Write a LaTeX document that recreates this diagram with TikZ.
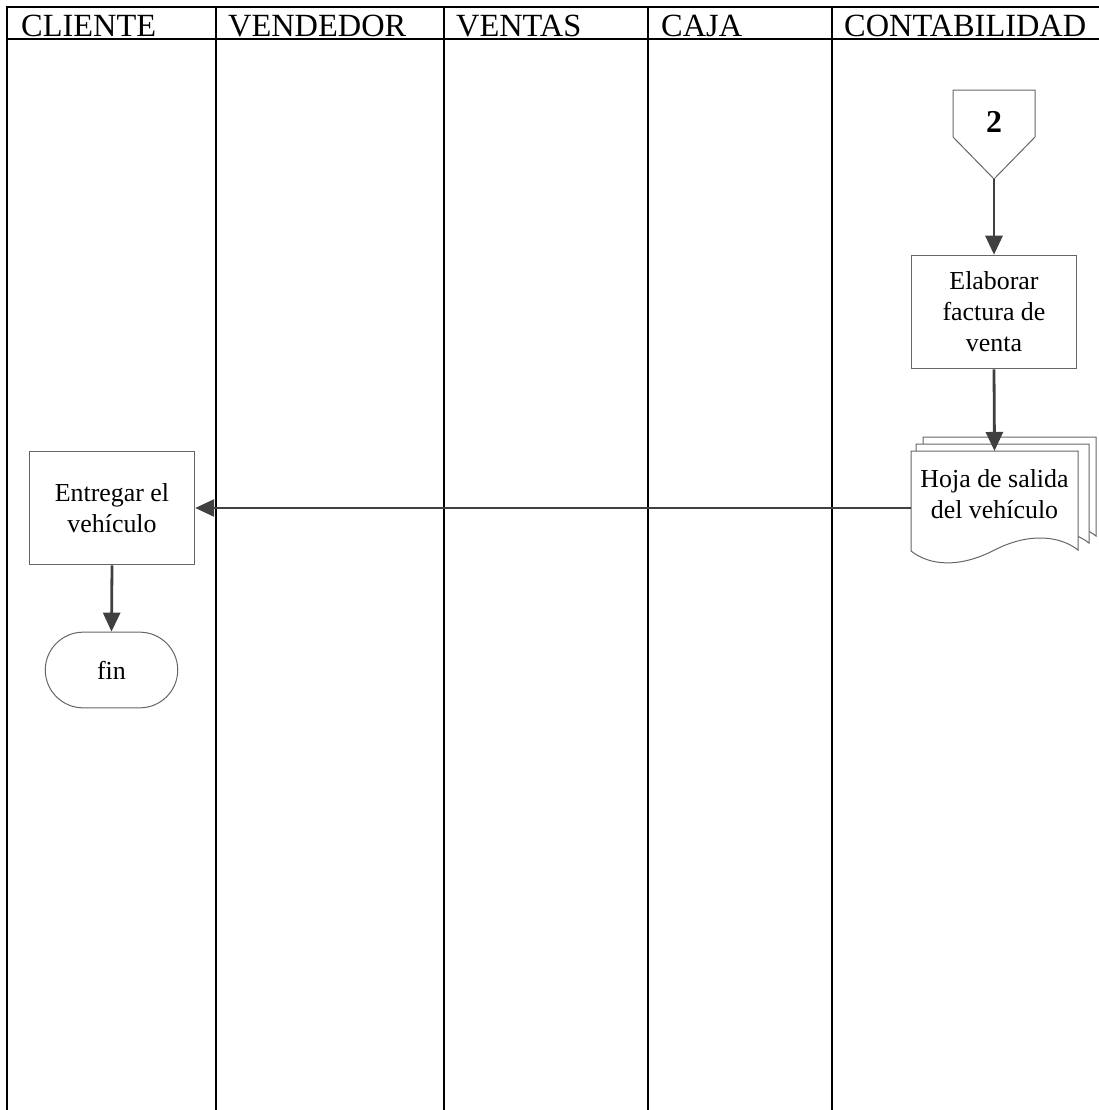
\documentclass[tikz,border=0pt]{standalone}
\usepackage{fontspec}
\setmainfont{Liberation Serif}
\usetikzlibrary{arrows.meta}
\definecolor{flowline}{HTML}{404040}
\definecolor{boxline}{HTML}{666666}
\tikzset{
  lane/.style={line width=1.5bp, black},
  headrule/.style={line width=2.2bp, black},
  headtext/.style={anchor=base west, inner sep=0pt, font=\fontsize{32.5}{34}\selectfont},
  procbox/.style={draw=boxline, line width=1bp, fill=white, align=center, inner sep=2pt,
                  font=\fontsize{26}{31}\selectfont},
  termbox/.style={procbox, rounded corners=38bp},
  shapeline/.style={draw=boxline, line width=1bp, fill=white},
  arr/.style={draw=flowline, line width=2.8bp, -{Triangle[length=19bp, width=17bp]}},
}
\begin{document}
\begin{tikzpicture}[x=1bp, y=-1bp]
\useasboundingbox (0,0) rectangle (1099,1110);

% swimlane frame
\draw[headrule] (7,7) -- (1099,7);
\draw[headrule] (7,39) -- (1099,39);
\foreach \xx in {7,216,444,648,832}
  \draw[lane] (\xx,6) -- (\xx,1110);

% lane titles
\node[headtext] (hCliente)  at (21,36.5)  {CLIENTE};
\node[headtext] (hVendedor) at (228,36.5) {VENDEDOR};
\node[headtext] (hVentas)   at (456,36.5) {VENTAS};
\node[headtext] (hCaja)     at (661,36.5) {CAJA};
\node[headtext] (hConta)    at (844,36.5) {CONTABILIDAD};

% off-page connector 2
\draw[shapeline] (953,90) -- (1035,90) -- (1035,137) -- (994,179) coordinate (c2tip) -- (953,137) -- cycle;
\node[font=\bfseries\fontsize{32}{34}\selectfont] (c2) at (994,122) {2};

% process: invoice
\node[procbox, minimum width=166, minimum height=114] (elab) at (994,312)
  {Elaborar\\factura de\\venta};

% multi-document: exit sheet
\draw[shapeline] (923,437) -- (1096,437) -- (1096,536)
  .. controls (1078,522) and (1048,518) .. (1010,536) -- (923,536) -- cycle;
\draw[shapeline] (916,444) -- (1089,444) -- (1089,543)
  .. controls (1071,529) and (1041,525) .. (1003,543) -- (916,543) -- cycle;
\draw[shapeline] (911,451) -- (1078,451) -- (1078,550)
  .. controls (1060,536) and (1030,532) .. (994.5,550)
  .. controls (960,568) and (930,566) .. (911,551) -- cycle;
\node[align=center, inner sep=0pt, font=\fontsize{26}{31}\selectfont,
      minimum width=167, minimum height=86] (doc) at (994.5,494)
  {Hoja de salida\\del vehículo};

% client lane
\node[procbox, minimum width=166, minimum height=114] (entrega) at (112,508)
  {Entregar el\\vehículo};
\node[termbox, minimum width=133, minimum height=76] (fin) at (111.5,670) {fin};

% flow
\draw[arr] (c2tip) -- (elab.north);
\draw[arr] (elab.south) -- (doc.north);
\draw[arr] (entrega.east -| doc.west) -- (entrega.east);
\draw[arr] (entrega.south) -- (fin.north);
\end{tikzpicture}
\end{document}
